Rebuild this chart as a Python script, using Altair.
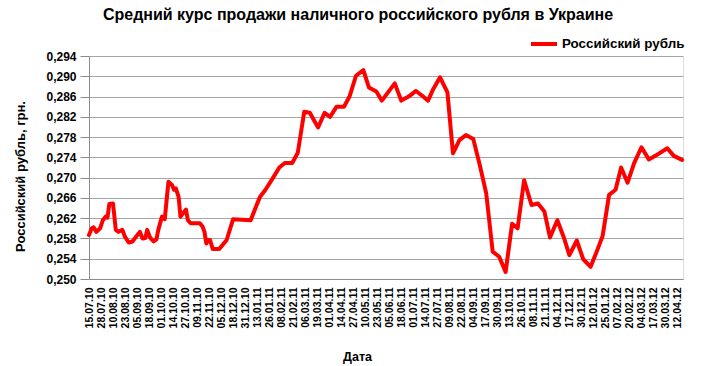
import altair as alt
import pandas as pd

FONT = "Liberation Sans, Arial, sans-serif"

chart_title = "Средний курс продажи наличного российского рубля в Украине"
series_name = "Российский рубль"
x_title = "Дата"
y_title = "Российский рубль, грн."

start_date = "2010-07-15"
end_date = "2012-04-18"

# days since 15.07.2010
day_offsets = [0, 3, 5, 8, 12, 15, 18, 20, 22, 26,
               29, 32, 36, 39, 43, 47, 55, 58, 61, 63,
               66, 70, 73, 75, 79, 82, 86, 90, 92, 94,
               97, 99, 102, 105, 107, 110, 120, 123, 125, 127,
               129, 131, 134, 141, 149, 156, 175, 185, 191, 199,
               206, 212, 220, 226, 233, 239, 248, 255, 261, 268,
               276, 282, 289, 297, 303, 311, 317, 331, 338, 346,
               354, 361, 367, 373, 380, 388, 394, 401, 408, 416,
               423, 430, 437, 444, 451, 458, 464, 471, 479, 486,
               493, 499, 507, 514, 520, 528, 535, 543, 550, 556,
               563, 570, 576, 583, 590, 598, 606, 613, 626, 633,
               642]

rate = [0.2587, 0.2600, 0.2602, 0.2593, 0.2600, 0.2616, 0.2623, 0.2621, 0.2648, 0.2649,
        0.2597, 0.2593, 0.2597, 0.2583, 0.2572, 0.2574, 0.2593, 0.2580, 0.2581, 0.2597,
        0.2582, 0.2574, 0.2578, 0.2597, 0.2623, 0.2618, 0.2692, 0.2685, 0.2676, 0.2679,
        0.2662, 0.2623, 0.2630, 0.2637, 0.2616, 0.2610, 0.2610, 0.2603, 0.2593, 0.2570,
        0.2577, 0.2577, 0.2559, 0.2559, 0.2577, 0.2618, 0.2616, 0.2662, 0.2676, 0.2699,
        0.2720, 0.2729, 0.2729, 0.2749, 0.2830, 0.2828, 0.2799, 0.2828, 0.2820, 0.2840,
        0.2840, 0.2860, 0.2901, 0.2912, 0.2878, 0.2870, 0.2852, 0.2886, 0.2852, 0.2860,
        0.2871, 0.2861, 0.2852, 0.2876, 0.2898, 0.2868, 0.2748, 0.2774, 0.2784, 0.2776,
        0.2725, 0.2669, 0.2554, 0.2544, 0.2514, 0.2609, 0.2600, 0.2695, 0.2646, 0.2649,
        0.2633, 0.2582, 0.2616, 0.2582, 0.2547, 0.2576, 0.2539, 0.2524, 0.2556, 0.2585,
        0.2666, 0.2676, 0.2720, 0.2690, 0.2728, 0.2760, 0.2736, 0.2743, 0.2758, 0.2743,
        0.2735]

tick_labels = ["15.07.10", "28.07.10", "10.08.10", "23.08.10", "05.09.10", "18.09.10",
               "01.10.10", "14.10.10", "27.10.10", "09.11.10", "22.11.10", "05.12.10",
               "18.12.10", "31.12.10", "13.01.11", "26.01.11", "08.02.11", "21.02.11",
               "06.03.11", "19.03.11", "01.04.11", "14.04.11", "27.04.11", "10.05.11",
               "23.05.11", "05.06.11", "18.06.11", "01.07.11", "14.07.11", "27.07.11",
               "09.08.11", "22.08.11", "04.09.11", "17.09.11", "30.09.11", "13.10.11",
               "26.10.11", "08.11.11", "21.11.11", "04.12.11", "17.12.11", "30.12.11",
               "12.01.12", "25.01.12", "07.02.12", "20.02.12", "04.03.12", "17.03.12",
               "30.03.12", "12.04.12"]

y_ticks = [0.250, 0.254, 0.258, 0.262, 0.266, 0.270, 0.274, 0.278, 0.282, 0.286, 0.290, 0.294]


def ms(ts):
    return int(pd.Timestamp(ts).value // 10**6)


dates = (pd.Timestamp(start_date) + pd.to_timedelta(day_offsets, unit="D")).strftime("%Y-%m-%d")
df = pd.DataFrame({"date": list(dates), "rate": rate, "series": series_name})
tick_ms = [ms(pd.to_datetime(t, format="%d.%m.%y")) for t in tick_labels]

chart = alt.Chart(df).mark_line(strokeWidth=4, strokeJoin="round", strokeCap="round").encode(
    x=alt.X("date:T",
            scale=alt.Scale(type="utc", domain=[ms(start_date), ms(end_date)], nice=False),
            axis=alt.Axis(values=tick_ms,
                          labelExpr="utcFormat(datum.value, '%d.%m.%y')",
                          labelAngle=270, labelFontSize=10.5, labelFont=FONT,
                          labelFontWeight="bold", labelColor="black",
                          labelOverlap=False, labelFlush=False, labelPadding=8,
                          ticks=False, grid=False, domainColor="#8c8c8c",
                          title=x_title, titleFont=FONT, titleFontSize=12.5,
                          titleFontWeight="bold", titleColor="black",
                          titleX=268, titleY=81, titleBaseline="alphabetic")),
    y=alt.Y("rate:Q",
            scale=alt.Scale(domain=[0.250, 0.294], nice=False, zero=False),
            axis=alt.Axis(values=y_ticks,
                          labelExpr="replace(format(datum.value, '.3f'), '.', ',')",
                          labelFontSize=12, labelFont=FONT, labelFontWeight="bold",
                          labelColor="black", labelPadding=4,
                          tickSize=9, tickColor="#8c8c8c", domainColor="#8c8c8c",
                          gridColor="#a6a6a6", gridWidth=1,
                          title=y_title, titleFont=FONT, titleFontSize=13,
                          titleFontWeight="bold", titleColor="black",
                          titleX=-69, titleY=120, titleAngle=270,
                          titleBaseline="middle")),
    color=alt.Color("series:N",
                    scale=alt.Scale(range=["#ff0000"]),
                    legend=alt.Legend(title=None, orient="none", legendX=440, legendY=-27,
                                      symbolType="stroke", symbolStrokeWidth=4,
                                      symbolSize=676, labelFont=FONT, labelFontSize=13.4,
                                      labelFontWeight="bold", labelColor="black",
                                      labelOffset=3)),
).properties(
    width=594,
    height=223,
    autosize=alt.AutoSizeParams(type="none"),
    padding={"left": 89, "top": 56, "right": 19, "bottom": 87},
    title=alt.TitleParams(text=chart_title, font=FONT, fontSize=16, fontWeight="bold",
                          color="black", anchor="middle", dx=-28, offset=6),
).configure_view(stroke=None).configure(background="white")

chart.save("out.html", embed_options={"renderer": "svg", "actions": False})
